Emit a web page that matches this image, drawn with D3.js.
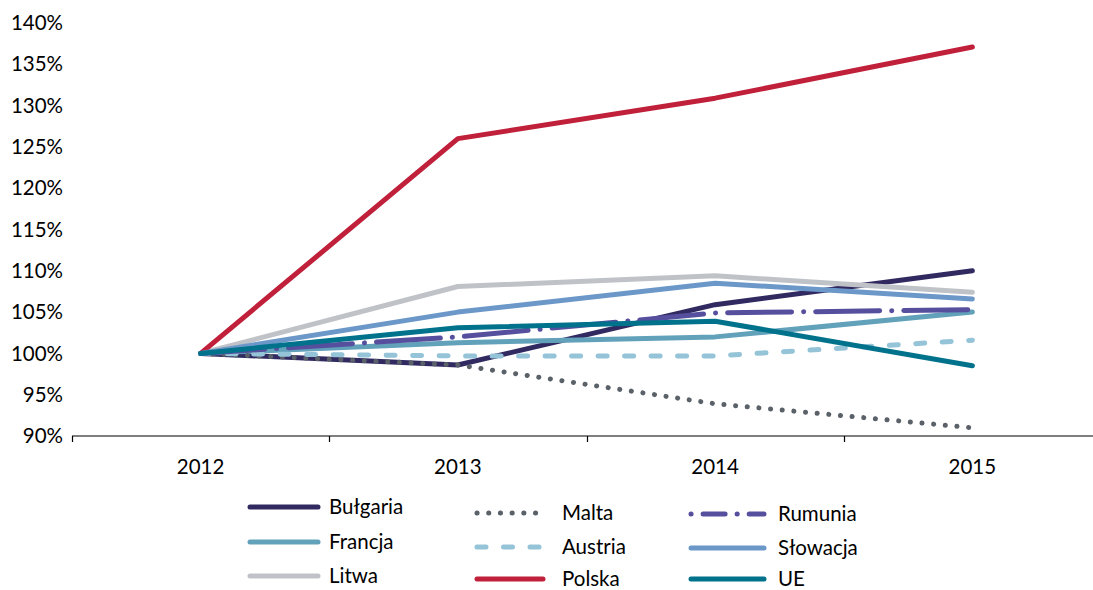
<!DOCTYPE html>
<html>
<head>
<meta charset="utf-8">
<script src="https://cdn.jsdelivr.net/npm/d3@7"></script>
<style>
  body { margin: 0; background: #fff; }
  text { font-family: Lato, "Open Sans", sans-serif; fill: #000; }
</style>
</head>
<body>
<svg id="chart"></svg>
<script>
const years = ["2012", "2013", "2014", "2015"];
const yTicks = [90, 95, 100, 105, 110, 115, 120, 125, 130, 135, 140];

const bulgaria = [100, 98.6, 105.9, 110.0];
const francja = [100, 101.3, 102.0, 105.0];
const litwa = [100, 108.1, 109.4, 107.4];
const malta = [100, 98.6, 93.9, 91.0];
const austria = [100, 99.7, 99.7, 101.6];
const polska = [100, 126.0, 130.9, 137.1];
const rumunia = [100, 102.0, 104.9, 105.3];
const slowacja = [100, 105.0, 108.5, 106.6];
const ue = [100, 103.1, 103.9, 98.5];

const seriesNames = ["Bułgaria", "Francja", "Litwa", "Malta", "Austria", "Polska", "Rumunia", "Słowacja", "UE"];
const seriesValues = [bulgaria, francja, litwa, malta, austria, polska, rumunia, slowacja, ue];

// colours and line styles
const styles = {
  "Bułgaria": { color: "#302a61", dash: null },
  "Francja": { color: "#62a1ba", dash: null },
  "Litwa": { color: "#bfc3c8", dash: null },
  "Malta": { color: "#5b6169", dash: "0.1 11.6" },
  "Austria": { color: "#95c3d7", dash: "9 17.5" },
  "Polska": { color: "#c0203a", dash: null },
  "Rumunia": { color: "#564f9d", dash: "64 12 0.1 12" },
  "Słowacja": { color: "#6b98c8", dash: null },
  "UE": { color: "#00728c", dash: null }
};

const width = 1093;
const height = 590;
const margin = { top: 23, left: 72, right: -8, bottomY: 436 };
const fontSize = "20.5px";

const svg = d3.select("#chart").attr("width", width).attr("height", height);

const xScale = d3
  .scaleBand()
  .domain(years)
  .range([margin.left, width - margin.right]);

const yScale = d3
  .scaleLinear()
  .domain([90, 140])
  .range([margin.bottomY, margin.top]);

// x axis
const xAxis = svg
  .append("g")
  .attr("transform", `translate(0,${margin.bottomY})`);
xAxis
  .append("line")
  .attr("x1", margin.left)
  .attr("x2", width)
  .attr("stroke", "#000")
  .attr("stroke-width", 1.2);
xAxis
  .selectAll("line.tick")
  .data(years)
  .join("line")
  .attr("class", "tick")
  .attr("x1", (d) => Math.round(xScale(d)) + 0.5)
  .attr("x2", (d) => Math.round(xScale(d)) + 0.5)
  .attr("y1", 0)
  .attr("y2", 6)
  .attr("stroke", "#000")
  .attr("stroke-width", 1.2);
xAxis
  .selectAll("text")
  .data(years)
  .join("text")
  .attr("x", (d) => xScale(d) + xScale.bandwidth() / 2)
  .attr("y", 38)
  .attr("text-anchor", "middle")
  .style("font-size", fontSize)
  .text((d) => d);

// y labels (no axis line)
svg
  .append("g")
  .selectAll("text")
  .data(yTicks)
  .join("text")
  .attr("x", 63)
  .attr("y", (d) => yScale(d))
  .attr("dy", "0.35em")
  .attr("text-anchor", "end")
  .style("font-size", fontSize)
  .text((d) => d + "%");

const line = d3
  .line()
  .x((d, i) => xScale(years[i]) + xScale.bandwidth() / 2)
  .y((d) => yScale(d));

// lines
svg
  .append("g")
  .selectAll("path")
  .data(seriesNames)
  .join("path")
  .attr("d", (name, i) => line(seriesValues[i]))
  .attr("fill", "none")
  .attr("stroke", (name) => styles[name].color)
  .attr("stroke-width", 5)
  .attr("stroke-linecap", "round")
  .attr("stroke-linejoin", "round")
  .attr("stroke-dasharray", (name) => styles[name].dash);

// legend, three columns
const legendCols = [
  { x: 250, len: 68, text: 329, rows: [507, 542, 576] },
  { x: 477, len: 66, text: 562, rows: [513, 547, 579] },
  { x: 691, len: 73, text: 778, rows: [514, 548, 579] }
];

const legend = svg.append("g");
seriesNames.forEach((name, i) => {
  const col = legendCols[Math.floor(i / 3)];
  const y = col.rows[i % 3];
  legend
    .append("line")
    .attr("x1", col.x)
    .attr("x2", col.x + col.len)
    .attr("y1", y)
    .attr("y2", y)
    .attr("stroke", styles[name].color)
    .attr("stroke-width", 5)
    .attr("stroke-linecap", "round")
    .attr("stroke-dasharray", name === "Rumunia" ? "0.1 12 22 12" : styles[name].dash);
  legend
    .append("text")
    .attr("x", col.text)
    .attr("y", y)
    .attr("dy", "0.35em")
    .style("font-size", fontSize)
    .text(name);
});
</script>
</body>
</html>
